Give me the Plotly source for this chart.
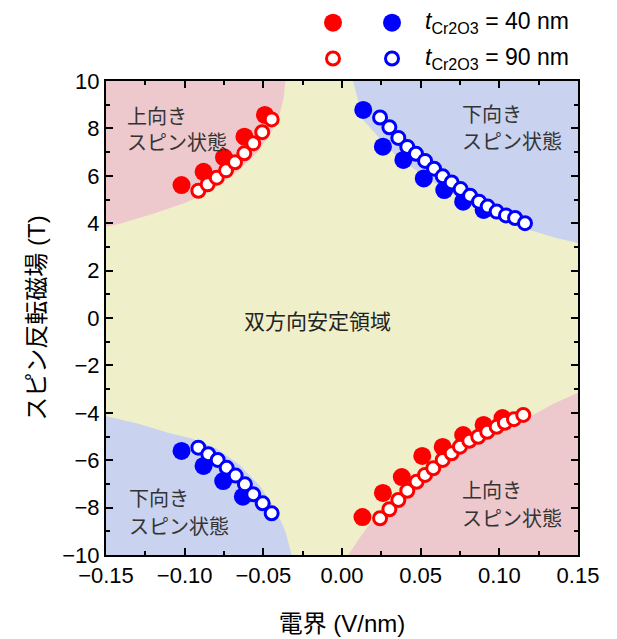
import plotly.graph_objects as go

# ---------------- data ----------------
# t_Cr2O3 = 40 nm (filled)
E40_UL = [-0.102, -0.088, -0.075, -0.062, -0.049]
B40_UL = [5.61, 6.17, 6.78, 7.65, 8.57]
E40_UR = [0.0135, 0.026, 0.039, 0.052, 0.065, 0.077, 0.090]
B40_UR = [8.78, 7.23, 6.67, 5.89, 5.40, 4.91, 4.56]
E40_LL = [-0.102, -0.088, -0.0755, -0.063]
B40_LL = [-5.61, -6.24, -6.88, -7.54]
E40_LR = [0.013, 0.026, 0.038, 0.051, 0.064, 0.077, 0.090, 0.102]
B40_LR = [-8.40, -7.38, -6.71, -5.82, -5.44, -4.94, -4.51, -4.22]

# t_Cr2O3 = 90 nm (open)
E90_UL = [-0.0913, -0.0854, -0.0796, -0.0737, -0.068, -0.0621, -0.0564, -0.0507, -0.0447]
B90_UL = [5.37, 5.64, 5.92, 6.23, 6.57, 6.95, 7.37, 7.84, 8.38]
E90_LL = [-0.0913, -0.085, -0.079, -0.0733, -0.0676, -0.0617, -0.0564, -0.0504, -0.0447]
B90_LL = [-5.47, -5.75, -5.99, -6.32, -6.65, -7.02, -7.44, -7.82, -8.24]
E90_UR = [0.0242, 0.0301, 0.0358, 0.0415, 0.0470, 0.0528, 0.0585, 0.0640, 0.0697,
          0.0754, 0.0814, 0.0871, 0.0926, 0.0983, 0.1042, 0.1100, 0.1163]
B90_UR = [8.46, 8.05, 7.60, 7.22, 6.93, 6.63, 6.30, 5.98, 5.72,
          5.44, 5.16, 4.91, 4.70, 4.49, 4.33, 4.22, 4.00]
E90_LR = [0.0242, 0.0301, 0.0358, 0.0415, 0.0474, 0.0528, 0.0580, 0.0640, 0.0697,
          0.0750, 0.0809, 0.0866, 0.0923, 0.0983, 0.1035, 0.1093, 0.1152]
B90_LR = [-8.45, -8.07, -7.68, -7.29, -6.91, -6.62, -6.34, -5.99, -5.71,
          -5.43, -5.18, -5.01, -4.80, -4.59, -4.42, -4.27, -4.09]

# phase boundaries (background regions)
UL_BOUND_E = [-0.036, -0.037, -0.040, -0.046, -0.055, -0.068, -0.085, -0.100, -0.120, -0.140, -0.150]
UL_BOUND_B = [10.0, 9.3, 8.5, 7.7, 6.9, 6.1, 5.3, 4.85, 4.4, 4.0, 3.85]
UR_BOUND_E = [0.007, 0.0135, 0.025, 0.035, 0.050, 0.062, 0.080, 0.100, 0.120, 0.135, 0.150]
UR_BOUND_B = [10.0, 8.35, 7.5, 6.8, 6.1, 5.55, 4.9, 4.2, 3.7, 3.4, 3.16]
LL_BOUND_E = [-0.150, -0.130, -0.110, -0.095, -0.080, -0.065, -0.052, -0.042, -0.036, -0.032]
LL_BOUND_B = [-4.15, -4.45, -4.85, -5.1, -5.5, -6.2, -7.1, -8.1, -9.0, -10.0]
LR_BOUND_E = [0.004, 0.012, 0.022, 0.035, 0.050, 0.065, 0.080, 0.100, 0.120, 0.135, 0.150]
LR_BOUND_B = [-10.0, -9.2, -8.3, -7.6, -6.75, -6.1, -5.5, -4.75, -4.15, -3.6, -3.15]

X_TICKS = [-0.15, -0.10, -0.05, 0.00, 0.05, 0.10, 0.15]
X_TICKTEXT = ["−0.15", "−0.10", "−0.05", "0.00", "0.05", "0.10", "0.15"]
Y_TICKS = [-10, -8, -6, -4, -2, 0, 2, 4, 6, 8, 10]
Y_TICKTEXT = ["−10", "−8", "−6", "−4", "−2", "0", "2", "4", "6", "8", "10"]

# legend swatches (legend strip coordinates)
LEG_X = [333, 392]
LEG_ROW_Y = [22.7, 58.5]
LEG_TEXT = ["<i>t</i><sub>Cr2O3</sub> = 40 nm", "<i>t</i><sub>Cr2O3</sub> = 90 nm"]

# ---------------- style ----------------
RED = "#FF0000"
BLUE = "#0000FF"
PINK = "#EDC9CD"
YELLOW = "#EFEFC9"
LBLUE = "#C9D2EF"
FONT = "Liberation Sans, Arial, Noto Sans CJK JP, sans-serif"
JFONT = "Noto Sans CJK JP, sans-serif"

fig = go.Figure()

def region(e, b, corner, color):
    xs = list(e) + [corner[0]]
    ys = list(b) + [corner[1]]
    fig.add_trace(go.Scatter(x=xs, y=ys, mode="lines", fill="toself",
                             fillcolor=color, line=dict(width=0),
                             hoverinfo="skip", showlegend=False))

region(UL_BOUND_E, UL_BOUND_B, (-0.15, 10), PINK)
region(UR_BOUND_E, UR_BOUND_B, (0.15, 10), LBLUE)
region(LL_BOUND_E, LL_BOUND_B, (-0.15, -10), LBLUE)
region(LR_BOUND_E, LR_BOUND_B, (0.15, -10), PINK)

def filled(e, b, color, xa="x", ya="y"):
    fig.add_trace(go.Scatter(x=e, y=b, mode="markers", xaxis=xa, yaxis=ya,
                             marker=dict(size=18, color=color, line=dict(width=0)),
                             showlegend=False, cliponaxis=False))

def opened(e, b, color, xa="x", ya="y"):
    fig.add_trace(go.Scatter(x=e, y=b, mode="markers", xaxis=xa, yaxis=ya,
                             marker=dict(size=13, color="white", line=dict(width=3, color=color)),
                             showlegend=False, cliponaxis=False))

filled(E40_UL, B40_UL, RED)
filled(E40_LR, B40_LR, RED)
filled(E40_UR, B40_UR, BLUE)
filled(E40_LL, B40_LL, BLUE)
opened(E90_UL, B90_UL, RED)
opened(E90_LR, B90_LR, RED)
opened(E90_UR, B90_UR, BLUE)
opened(E90_LL, B90_LL, BLUE)

# legend strip
filled([LEG_X[0]], [LEG_ROW_Y[0]], RED, "x2", "y2")
filled([LEG_X[1]], [LEG_ROW_Y[0]], BLUE, "x2", "y2")
opened([LEG_X[0]], [LEG_ROW_Y[1]], RED, "x2", "y2")
opened([LEG_X[1]], [LEG_ROW_Y[1]], BLUE, "x2", "y2")

annotations = []
for yv, txt in zip(LEG_ROW_Y, LEG_TEXT):
    annotations.append(dict(x=423, y=yv, xref="x2", yref="y2", text=txt, showarrow=False,
                            xanchor="left", yanchor="middle",
                            font=dict(family=FONT, size=23, color="black")))

LABELS = [
    (-0.1379, 8.56, "上向き"), (-0.1379, 7.46, "スピン状態"),
    (0.075, 8.64, "下向き"), (0.075, 7.50, "スピン状態"),
    (-0.1367, -7.58, "下向き"), (-0.1367, -8.74, "スピン状態"),
    (0.075, -7.25, "上向き"), (0.075, -8.42, "スピン状態"),
]
for xv, yv, t in LABELS:
    annotations.append(dict(x=xv, y=yv, xref="x", yref="y", text=t, showarrow=False,
                            xanchor="left", yanchor="middle",
                            font=dict(family=JFONT, size=20, color="#333333")))
annotations.append(dict(x=-0.0153, y=-0.1, xref="x", yref="y", text="双方向安定領域",
                        showarrow=False, xanchor="center", yanchor="middle",
                        font=dict(family=JFONT, size=21, color="#222222")))

axis_common = dict(showline=True, linecolor="black", linewidth=2, mirror="ticks",
                   ticks="inside", ticklen=7, tickwidth=2, tickcolor="black",
                   showgrid=False, zeroline=False, automargin=False,
                   tickfont=dict(family=FONT, size=22, color="black"))

fig.update_layout(
    width=617, height=639,
    margin=dict(l=98, r=47, t=2, b=92, autoexpand=False),
    paper_bgcolor="white", plot_bgcolor="white",
    showlegend=False,
    shapes=[dict(type="rect", xref="x domain", yref="y domain", x0=0, x1=1, y0=0, y1=1,
                 fillcolor=YELLOW, line=dict(width=0), layer="below")],
    xaxis=dict(range=[-0.15, 0.15], tickvals=X_TICKS, ticktext=X_TICKTEXT,
               minor=dict(ticks="inside", ticklen=4, tickwidth=2, dtick=0.025, tick0=0, tickcolor="black"),
               title=dict(text="電界 (V/nm)", standoff=28,
                          font=dict(family=FONT, size=24, color="black")),
               anchor="y", domain=[0, 1], **axis_common),
    yaxis=dict(range=[-10, 10], tickvals=Y_TICKS, ticktext=Y_TICKTEXT,
               minor=dict(ticks="inside", ticklen=4, tickwidth=2, dtick=1, tick0=0, tickcolor="black"),
               title=dict(text="スピン反転磁場 (T)", standoff=10,
                          font=dict(family=FONT, size=24, color="black")),
               anchor="x", domain=[0, 0.8697], **axis_common),
    xaxis2=dict(range=[106, 578], domain=[0, 1], anchor="y2", visible=False, fixedrange=True),
    yaxis2=dict(range=[81, 10], domain=[0.8697, 1], anchor="x2", visible=False, fixedrange=True),
    annotations=annotations,
)

fig.write_html("out.html")
